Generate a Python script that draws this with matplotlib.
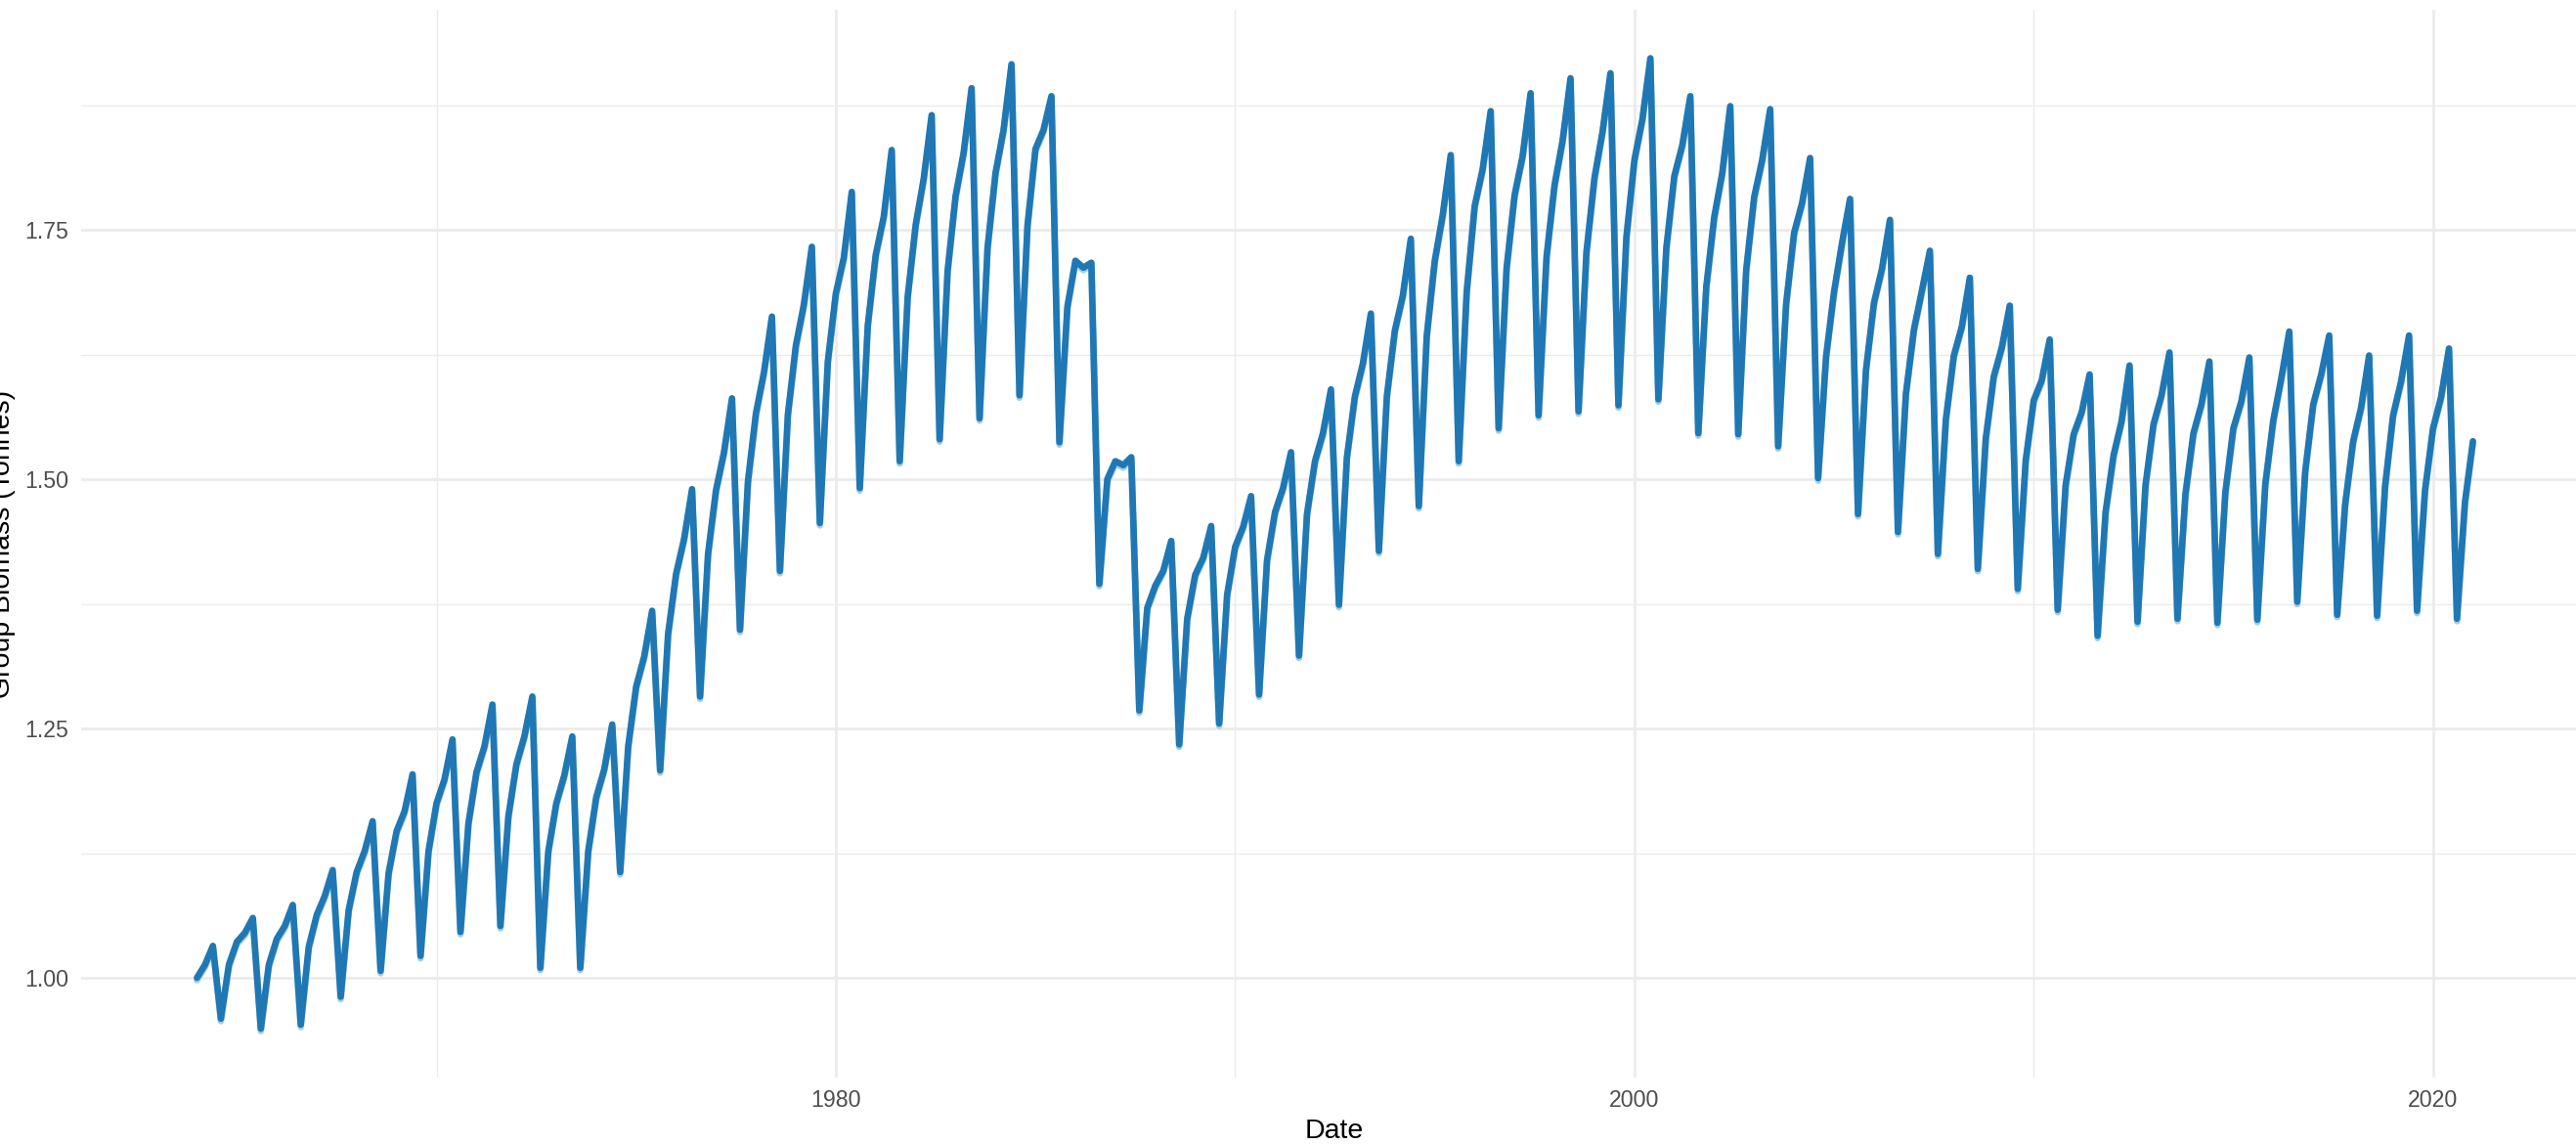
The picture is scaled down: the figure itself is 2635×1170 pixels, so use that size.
import numpy as np
import matplotlib
matplotlib.use("Agg")
import matplotlib.pyplot as plt
import matplotlib.transforms as mtransforms

plt.rcParams['font.family'] = ['Liberation Sans', 'DejaVu Sans']

# model output: 5 time steps per year, starting 1964.0
start_year = 1964.0
step_years = 0.2
biomass = [
    1.000, 1.013, 1.032,
    0.959, 1.013, 1.036, 1.045, 1.060,
    0.949, 1.013, 1.039, 1.052, 1.073,
    0.953, 1.031, 1.063, 1.082, 1.108,
    0.981, 1.068, 1.106, 1.127, 1.157,
    1.007, 1.105, 1.147, 1.167, 1.204,
    1.022, 1.127, 1.175, 1.199, 1.239,
    1.046, 1.155, 1.206, 1.232, 1.274,
    1.052, 1.162, 1.214, 1.242, 1.282,
    1.010, 1.127, 1.175, 1.203, 1.242,
    1.010, 1.127, 1.181, 1.209, 1.254,
    1.106, 1.232, 1.292, 1.322, 1.368,
    1.208, 1.345, 1.405, 1.440, 1.490,
    1.282, 1.425, 1.489, 1.527, 1.581,
    1.349, 1.498, 1.566, 1.607, 1.663,
    1.408, 1.565, 1.634, 1.675, 1.733,
    1.456, 1.618, 1.686, 1.722, 1.788,
    1.491, 1.654, 1.725, 1.763, 1.830,
    1.518, 1.683, 1.755, 1.801, 1.865,
    1.540, 1.709, 1.784, 1.827, 1.892,
    1.561, 1.732, 1.807, 1.850, 1.916,
    1.584, 1.754, 1.831, 1.850, 1.884,
    1.537, 1.673, 1.719, 1.712, 1.717,
    1.395, 1.500, 1.518, 1.514, 1.522,
    1.268, 1.371, 1.393, 1.408, 1.438,
    1.234, 1.360, 1.404, 1.421, 1.453,
    1.255, 1.384, 1.432, 1.452, 1.483,
    1.284, 1.419, 1.467, 1.491, 1.527,
    1.323, 1.465, 1.518, 1.546, 1.590,
    1.374, 1.522, 1.583, 1.616, 1.666,
    1.428, 1.583, 1.649, 1.684, 1.741,
    1.473, 1.644, 1.719, 1.765, 1.825,
    1.518, 1.688, 1.774, 1.811, 1.869,
    1.551, 1.712, 1.785, 1.824, 1.887,
    1.564, 1.723, 1.795, 1.839, 1.902,
    1.568, 1.728, 1.802, 1.848, 1.907,
    1.574, 1.743, 1.820, 1.861, 1.922,
    1.580, 1.732, 1.804, 1.835, 1.884,
    1.546, 1.693, 1.763, 1.807, 1.874,
    1.545, 1.710, 1.783, 1.820, 1.871,
    1.533, 1.676, 1.747, 1.777, 1.822,
    1.501, 1.623, 1.688, 1.737, 1.781,
    1.465, 1.610, 1.677, 1.711, 1.760,
    1.447, 1.586, 1.650, 1.689, 1.729,
    1.425, 1.560, 1.624, 1.653, 1.702,
    1.410, 1.541, 1.603, 1.632, 1.674,
    1.390, 1.519, 1.579, 1.599, 1.640,
    1.369, 1.494, 1.545, 1.567, 1.605,
    1.343, 1.467, 1.524, 1.558, 1.614,
    1.357, 1.494, 1.555, 1.584, 1.627,
    1.360, 1.485, 1.546, 1.575, 1.618,
    1.356, 1.487, 1.551, 1.578, 1.622,
    1.359, 1.495, 1.559, 1.601, 1.648,
    1.377, 1.508, 1.575, 1.605, 1.644,
    1.364, 1.475, 1.538, 1.572, 1.624,
    1.363, 1.493, 1.564, 1.598, 1.644,
    1.368, 1.489, 1.551, 1.582, 1.631,
    1.360, 1.477, 1.538,
]
dates = start_year + step_years * np.arange(len(biomass))

x_major = [1980, 2000, 2020]
x_minor = [1970, 1990, 2010]
y_major = [1.00, 1.25, 1.50, 1.75]
y_minor = [1.125, 1.375, 1.625, 1.875]

W, H = 2635, 1170
fig = plt.figure(figsize=(W / 100, H / 100), dpi=100)
ax = fig.add_axes([83 / W, (H - 1102) / H, (2646 - 83) / W, (1102 - 9.6) / H])

# lighter copy sits just under the main line
offset = mtransforms.ScaledTranslation(0, -2.5 / 100, fig.dpi_scale_trans)
ax.plot(dates, biomass, color='#a6cee3', lw=4.8, solid_joinstyle='round',
        solid_capstyle='round', transform=ax.transData + offset, zorder=2)
ax.plot(dates, biomass, color='#1f78b4', lw=4.8, solid_joinstyle='round',
        solid_capstyle='round', zorder=3)

ax.set_xlim(1961.1, 2023.85)
ax.set_ylim(0.900, 1.971)
ax.set_xticks(x_major)
ax.set_xticks(x_minor, minor=True)
ax.set_yticks(y_major)
ax.set_yticks(y_minor, minor=True)
ax.set_yticklabels([f'{v:.2f}' for v in y_major])
ax.grid(which='major', color='#ebebeb', lw=2.0)
ax.grid(which='minor', color='#ebebeb', lw=1.0)
ax.set_axisbelow(True)
ax.tick_params(which='both', length=0, colors='#4d4d4d', labelsize=16.7)
ax.tick_params(axis='x', pad=9)
ax.tick_params(axis='y', pad=9)
for s in ax.spines.values():
    s.set_visible(False)

fig.text(1365 / W, (H - 1164) / H, 'Date', ha='center', va='baseline', fontsize=20.5)
fig.text(3 / W, (H - 556) / H, 'Group Biomass (Tonnes)', rotation=90,
         ha='center', va='center', fontsize=20.5)

fig.savefig('out.png', dpi=100, facecolor='white')
